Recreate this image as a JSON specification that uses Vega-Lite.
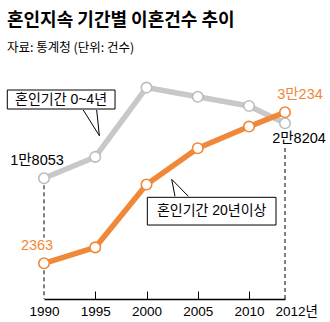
{
  "$schema": "https://vega.github.io/schema/vega-lite/v6.json",
  "width": 320,
  "height": 239,
  "autosize": {"type": "none"},
  "padding": {"left": 5, "right": 5, "top": 60, "bottom": 23},
  "background": "white",
  "config": {"view": {"stroke": null}},
  "title": {
    "text": "혼인지속 기간별 이혼건수 추이",
    "subtitle": "자료: 통계청 (단위: 건수)",
    "anchor": "start",
    "frame": "group",
    "dx": 2,
    "offset": 6,
    "font": "Noto Sans CJK KR",
    "fontSize": 18,
    "fontWeight": "bold",
    "color": "#000",
    "subtitleFont": "Noto Sans CJK KR",
    "subtitleFontSize": 12.5,
    "subtitleColor": "#000",
    "subtitlePadding": 12
  },
  "datasets": {
    "series": [
      {"year": 1990, "series": "0~4년", "value": 18053},
      {"year": 1995, "series": "0~4년", "value": 22000},
      {"year": 2000, "series": "0~4년", "value": 34800},
      {"year": 2005, "series": "0~4년", "value": 33100},
      {"year": 2010, "series": "0~4년", "value": 31400},
      {"year": 2012, "series": "0~4년", "value": 28204},
      {"year": 1990, "series": "20년이상", "value": 2363},
      {"year": 1995, "series": "20년이상", "value": 5300},
      {"year": 2000, "series": "20년이상", "value": 16900},
      {"year": 2005, "series": "20년이상", "value": 23600},
      {"year": 2010, "series": "20년이상", "value": 27600},
      {"year": 2012, "series": "20년이상", "value": 30234}
    ],
    "labels": [
      {"year": 1990, "series": "0~4년", "value": 18053, "label": "1만8053", "side": "left"},
      {"year": 1990, "series": "20년이상", "value": 2363, "label": "2363", "side": "left"},
      {"year": 2012, "series": "20년이상", "value": 30234, "label": "3만234", "side": "top"},
      {"year": 2012, "series": "0~4년", "value": 28204, "label": "2만8204", "side": "bottom"}
    ],
    "guides": [
      {"year": 1990, "top": 18053, "bottom": 7100},
      {"year": 1990, "top": 2363, "bottom": -4227},
      {"year": 2012, "top": 23644, "bottom": -4227}
    ],
    "boxes": [
      {"x1": 1986.42, "x2": 1996.93, "y1": 30843, "y2": 34351, "tx": 1991.66, "ty": 32597, "text": "혼인기간 0~4년"},
      {"x1": 2000.08, "x2": 2011.5, "y1": 9429, "y2": 14543, "tx": 2006.36, "ty": 12014, "text": "혼인기간 20년이상"}
    ],
    "pointers": [
      {"id": "a", "o": 1, "year": 1993.83, "value": 30659},
      {"id": "a", "o": 2, "year": 1995.40, "value": 25914},
      {"id": "a", "o": 3, "year": 1995.14, "value": 30659},
      {"id": "b", "o": 1, "year": 2002.78, "value": 14728},
      {"id": "b", "o": 2, "year": 2002.46, "value": 17866},
      {"id": "b", "o": 3, "year": 2004.08, "value": 14728}
    ]
  },
  "resolve": {"scale": {"color": "independent"}},
  "layer": [
    {
      "data": {"name": "guides"},
      "mark": {"type": "rule", "color": "#000", "strokeWidth": 1, "strokeDash": [4, 3]},
      "encoding": {
        "x": {"field": "year", "type": "quantitative", "scale": {"type": "linear", "domain": [1990, 2010, 2012], "range": [39, 244, 280], "nice": false, "zero": false},
          "axis": {
            "values": [1990, 1995, 2000, 2005, 2010, 2012],
            "title": null,
            "grid": false,
            "domainColor": "#000",
            "domainWidth": 1.5,
            "tickColor": "#000",
            "tickWidth": 1,
            "tickSize": -8,
            "tickOpacity": {"condition": {"test": "datum.value == 1990 || datum.value == 2012", "value": 0}, "value": 1},
            "labelExpr": "datum.value == 2012 ? '2012년' : datum.label",
            "labelAlign": {"condition": {"test": "datum.value == 2012", "value": "left"}, "value": "center"},
            "labelOffset": {"condition": {"test": "datum.value == 2012", "value": -10}, "value": 0},
            "labelFont": "Liberation Sans, Noto Sans CJK KR",
            "labelFontSize": 13.5,
            "labelColor": "#000",
            "labelPadding": 13,
            "labelFlush": false,
            "labelOverlap": false,
            "format": "d"
          }
        },
        "y": {"field": "top", "type": "quantitative", "scale": {"domain": [-4227, 39889], "nice": false, "zero": false}, "axis": null},
        "y2": {"field": "bottom"}
      }
    },
    {
      "data": {"name": "series"},
      "mark": {"type": "line", "strokeWidth": 5.5, "strokeJoin": "round"},
      "encoding": {
        "x": {"field": "year", "type": "quantitative"},
        "y": {"field": "value", "type": "quantitative"},
        "color": {"field": "series", "type": "nominal", "scale": {"domain": ["0~4년", "20년이상"], "range": ["#c8c8c8", "#f0883a"]}, "legend": null}
      }
    },
    {
      "data": {"name": "series"},
      "mark": {"type": "point", "filled": true, "fill": "white", "size": 110, "strokeWidth": 1.6, "opacity": 1},
      "encoding": {
        "x": {"field": "year", "type": "quantitative"},
        "y": {"field": "value", "type": "quantitative"},
        "stroke": {"field": "series", "type": "nominal", "scale": {"domain": ["0~4년", "20년이상"], "range": ["#bdbdbd", "#f0883a"]}, "legend": null}
      }
    },
    {
      "data": {"name": "labels"},
      "transform": [{"filter": "datum.side == 'left'"}],
      "mark": {"type": "text", "font": "Liberation Sans, Noto Sans CJK KR", "fontSize": 14.5, "dx": -7, "dy": -17, "baseline": "middle"},
      "encoding": {
        "x": {"field": "year", "type": "quantitative"},
        "y": {"field": "value", "type": "quantitative"},
        "text": {"field": "label"},
        "color": {"condition": {"test": "datum.series == '20년이상'", "value": "#f0883a"}, "value": "#000"}
      }
    },
    {
      "data": {"name": "labels"},
      "transform": [{"filter": "datum.side == 'top'"}],
      "mark": {"type": "text", "font": "Liberation Sans, Noto Sans CJK KR", "fontSize": 14.5, "dx": 15, "dy": -17, "baseline": "middle"},
      "encoding": {
        "x": {"field": "year", "type": "quantitative"},
        "y": {"field": "value", "type": "quantitative"},
        "text": {"field": "label"},
        "color": {"value": "#f0883a"}
      }
    },
    {
      "data": {"name": "labels"},
      "transform": [{"filter": "datum.side == 'bottom'"}],
      "mark": {"type": "text", "font": "Liberation Sans, Noto Sans CJK KR", "fontSize": 14.5, "dx": 14, "dy": 16, "baseline": "middle"},
      "encoding": {
        "x": {"field": "year", "type": "quantitative"},
        "y": {"field": "value", "type": "quantitative"},
        "text": {"field": "label"},
        "color": {"value": "#000"}
      }
    },
    {
      "data": {"name": "boxes"},
      "mark": {"type": "rect", "fill": "white", "stroke": "#000", "strokeWidth": 1},
      "encoding": {
        "x": {"field": "x1", "type": "quantitative"},
        "x2": {"field": "x2"},
        "y": {"field": "y1", "type": "quantitative"},
        "y2": {"field": "y2"}
      }
    },
    {
      "data": {"name": "pointers"},
      "mark": {"type": "line", "stroke": "#000", "strokeWidth": 1, "fill": "white"},
      "encoding": {
        "x": {"field": "year", "type": "quantitative"},
        "y": {"field": "value", "type": "quantitative"},
        "detail": {"field": "id"},
        "order": {"field": "o"}
      }
    },
    {
      "data": {"name": "boxes"},
      "mark": {"type": "text", "font": "Liberation Sans, Noto Sans CJK KR", "fontSize": 14, "baseline": "middle", "align": "center", "color": "#000"},
      "encoding": {
        "x": {"field": "tx", "type": "quantitative"},
        "y": {"field": "ty", "type": "quantitative"},
        "text": {"field": "text"}
      }
    }
  ]
}
